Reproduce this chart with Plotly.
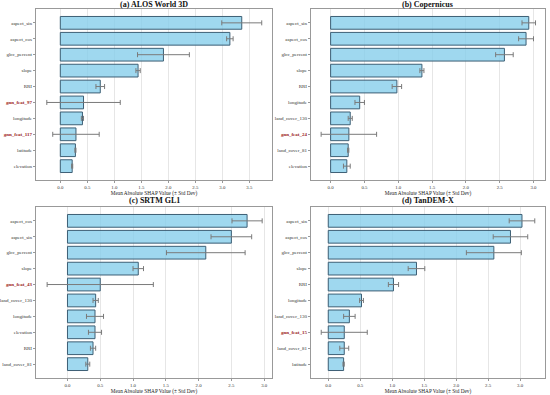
import plotly.graph_objects as go

# ---- data ----
titles = ["(a) ALOS World 3D", "(b) Copernicus", "(c) SRTM GL1", "(d) TanDEM-X"]

feat_a = ["aspect_sin", "aspect_cos", "glcc_percent", "slope", "RRI", "gnn_feat_97",
          "longitude", "gnn_feat_117", "latitude", "elevation"]
mean_a = [3.36, 3.14, 1.91, 1.44, 0.74, 0.43, 0.41, 0.29, 0.28, 0.22]
std_a = [0.37, 0.06, 0.48, 0.04, 0.08, 0.68, 0.02, 0.43, 0.01, 0.01]

feat_b = ["aspect_sin", "aspect_cos", "glcc_percent", "slope", "RRI", "longitude",
          "land_cover_130", "gnn_feat_24", "land_cover_81", "elevation"]
mean_b = [2.93, 2.89, 2.57, 1.35, 0.98, 0.43, 0.29, 0.27, 0.26, 0.24]
std_b = [0.10, 0.11, 0.13, 0.03, 0.07, 0.07, 0.03, 0.41, 0.01, 0.05]

feat_c = ["aspect_cos", "aspect_sin", "glcc_percent", "slope", "gnn_feat_43",
          "land_cover_130", "longitude", "elevation", "RRI", "land_cover_81"]
mean_c = [2.74, 2.50, 2.11, 1.08, 0.50, 0.43, 0.42, 0.42, 0.39, 0.31]
std_c = [0.23, 0.31, 0.60, 0.08, 0.81, 0.04, 0.13, 0.10, 0.04, 0.03]

feat_d = ["aspect_sin", "aspect_cos", "glcc_percent", "slope", "RRI", "longitude",
          "land_cover_130", "gnn_feat_15", "land_cover_81", "latitude"]
mean_d = [3.03, 2.85, 2.59, 1.38, 1.02, 0.52, 0.33, 0.25, 0.25, 0.24]
std_d = [0.20, 0.27, 0.43, 0.13, 0.08, 0.03, 0.09, 0.36, 0.07, 0.01]

x_ranges = [[-0.45, 3.92], [-0.29, 3.17], [-0.48, 3.12], [-0.27, 3.39]]
x_tickvals = [[0.0, 0.5, 1.0, 1.5, 2.0, 2.5, 3.0, 3.5]] + [[0.0, 0.5, 1.0, 1.5, 2.0, 2.5, 3.0]] * 3

panels = [(feat_a, mean_a, std_a), (feat_b, mean_b, std_b),
          (feat_c, mean_c, std_c), (feat_d, mean_d, std_d)]

# ---- layout geometry ----
W, H = 550, 395
ml, mr, mt, mb = 36, 5, 9, 17
pw, ph = W - ml - mr, H - mt - mb
xdoms = [[0, (272 - ml) / pw], [(311 - ml) / pw, 1]]
ydoms = [[(H - mb - 180) / ph, 1], [0, (H - mb - 207) / ph]]
title_shift = [5, 6.5]

FONT = "Liberation Serif"
fig = go.Figure()
annotations = []

for i, (feats, means, stds) in enumerate(panels):
    r, c = divmod(i, 2)
    n = i + 1
    xa = "x" if n == 1 else f"x{n}"
    ya = "y" if n == 1 else f"y{n}"
    ypos = list(range(len(feats)))
    fig.add_trace(go.Bar(
        x=means, y=ypos, orientation="h", xaxis=xa, yaxis=ya,
        width=0.8,
        marker=dict(color="rgba(135,206,235,0.8)", line=dict(color="#3d5f75", width=1)),
        error_x=dict(type="data", array=stds, visible=True, color="#7a7a7a",
                     thickness=1, width=2.5),
        showlegend=False, hoverinfo="skip",
    ))
    ticktext = []
    for f in feats:
        if f.startswith("gnn_feat"):
            ticktext.append(f"<span style='color:#9b1c1c'><b>{f}</b></span>")
        else:
            ticktext.append(f)
    xkey = "xaxis" if n == 1 else f"xaxis{n}"
    ykey = "yaxis" if n == 1 else f"yaxis{n}"
    fig.update_layout(**{
        xkey: dict(domain=xdoms[c], anchor=ya, range=x_ranges[i], automargin=False,
                   tickvals=x_tickvals[i], tickformat=".1f",
                   showgrid=True, gridcolor="#e6e6e6", gridwidth=0.8,
                   zeroline=False, showline=True, linecolor="#999999", linewidth=1,
                   mirror=True, ticks="outside", ticklen=2, tickcolor="#999999",
                   tickfont=dict(family=FONT, size=4.8, color="#333333"),
                   title=dict(text="Mean Absolute SHAP Value (± Std Dev)",
                              font=dict(family=FONT, size=5.3, color="#222222"),
                              standoff=2)),
        ykey: dict(domain=ydoms[r], anchor=xa, range=[len(feats) - 0.13, -0.87],
                   automargin=False,
                   tickvals=ypos, ticktext=ticktext, showgrid=False, zeroline=False,
                   showline=True, linecolor="#999999", linewidth=1, mirror=True,
                   ticks="outside", ticklen=2, tickcolor="#999999",
                   tickfont=dict(family=FONT, size=5, color="#333333")),
    })
    xmid = (xdoms[c][0] + xdoms[c][1]) / 2
    annotations.append(dict(text=f"<b>{titles[i]}</b>", x=xmid, y=ydoms[r][1],
                            xref="paper", yref="paper", xanchor="center", yanchor="middle",
                            showarrow=False, yshift=title_shift[r],
                            font=dict(family=FONT, size=8, color="#111111")))

fig.update_layout(width=W, height=H, margin=dict(l=ml, r=mr, t=mt, b=mb),
                  paper_bgcolor="white", plot_bgcolor="white",
                  annotations=annotations, bargap=0.2,
                  font=dict(family=FONT))
fig.write_html("out.html", config={"displayModeBar": False},
               post_script="document.body.style.margin='0px';document.body.style.padding='0px';")
